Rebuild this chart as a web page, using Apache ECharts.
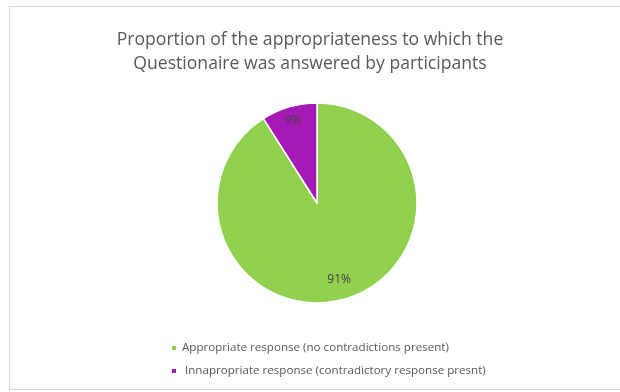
<!DOCTYPE html>
<html>
<head>
<meta charset="utf-8">
<script src="https://cdn.jsdelivr.net/npm/echarts@6/dist/echarts.min.js"></script>
<style>
  html, body { margin: 0; padding: 0; background: #ffffff; }
  #frame { position: absolute; left: 9px; top: 6px; width: 640px; height: 384px; border: 1px solid #d9d9d9; box-sizing: border-box; }
  #chart { position: absolute; left: 0; top: 0; width: 620px; height: 392px; }
</style>
</head>
<body>
<div id="frame"></div>
<div id="chart"></div>
<script>
// Share of questionnaires by how consistently they were answered
const categories = [
  'Appropriate response (no contradictions present)',
  ' Innapropriate response (contradictory response presnt)'
];
const shares = [91, 9];
const colors = ['#92d050', '#a51ab5'];

const CX = 317, CY = 203, R = 100;
// how far each label is pushed from mid-radius towards the rim
const labelPush = [0.5, 0.62];

const chart = echarts.init(document.getElementById('chart'), null, { renderer: 'canvas' });

chart.setOption({
  animation: false,
  backgroundColor: 'transparent',
  title: {
    text: 'Proportion of the appropriateness to which the\nQuestionaire was answered by participants',
    left: 'center',
    top: 23,
    textStyle: {
      fontFamily: 'Open Sans',
      fontWeight: 'normal',
      fontSize: 17.6,
      color: '#595959',
      lineHeight: 24
    }
  },
  legend: {
    orient: 'vertical',
    left: 165,
    top: 337,
    itemWidth: 6,
    itemHeight: 6,
    itemGap: 11,
    icon: 'rect',
    textStyle: { fontFamily: 'Open Sans', fontSize: 11.6, color: '#595959' },
    data: categories
  },
  series: [{
    type: 'pie',
    center: [CX, CY],
    radius: [0, R],
    startAngle: 90,
    clockwise: true,
    itemStyle: { borderColor: '#ffffff', borderWidth: 1.5 },
    label: {
      show: true,
      position: 'inside',
      formatter: '{c}%',
      fontFamily: 'Open Sans',
      fontSize: 12,
      color: '#404040'
    },
    labelLine: { show: false },
    labelLayout: function (p) {
      const lx = p.labelRect.x + p.labelRect.width / 2 - CX;
      const ly = p.labelRect.y + p.labelRect.height / 2 - CY;
      const k = labelPush[p.dataIndex];
      return { dx: lx * k, dy: ly * k };
    },
    emphasis: { disabled: true },
    data: categories.map((name, i) => ({ name, value: shares[i], itemStyle: { color: colors[i] } }))
  }]
});
</script>
</body>
</html>
